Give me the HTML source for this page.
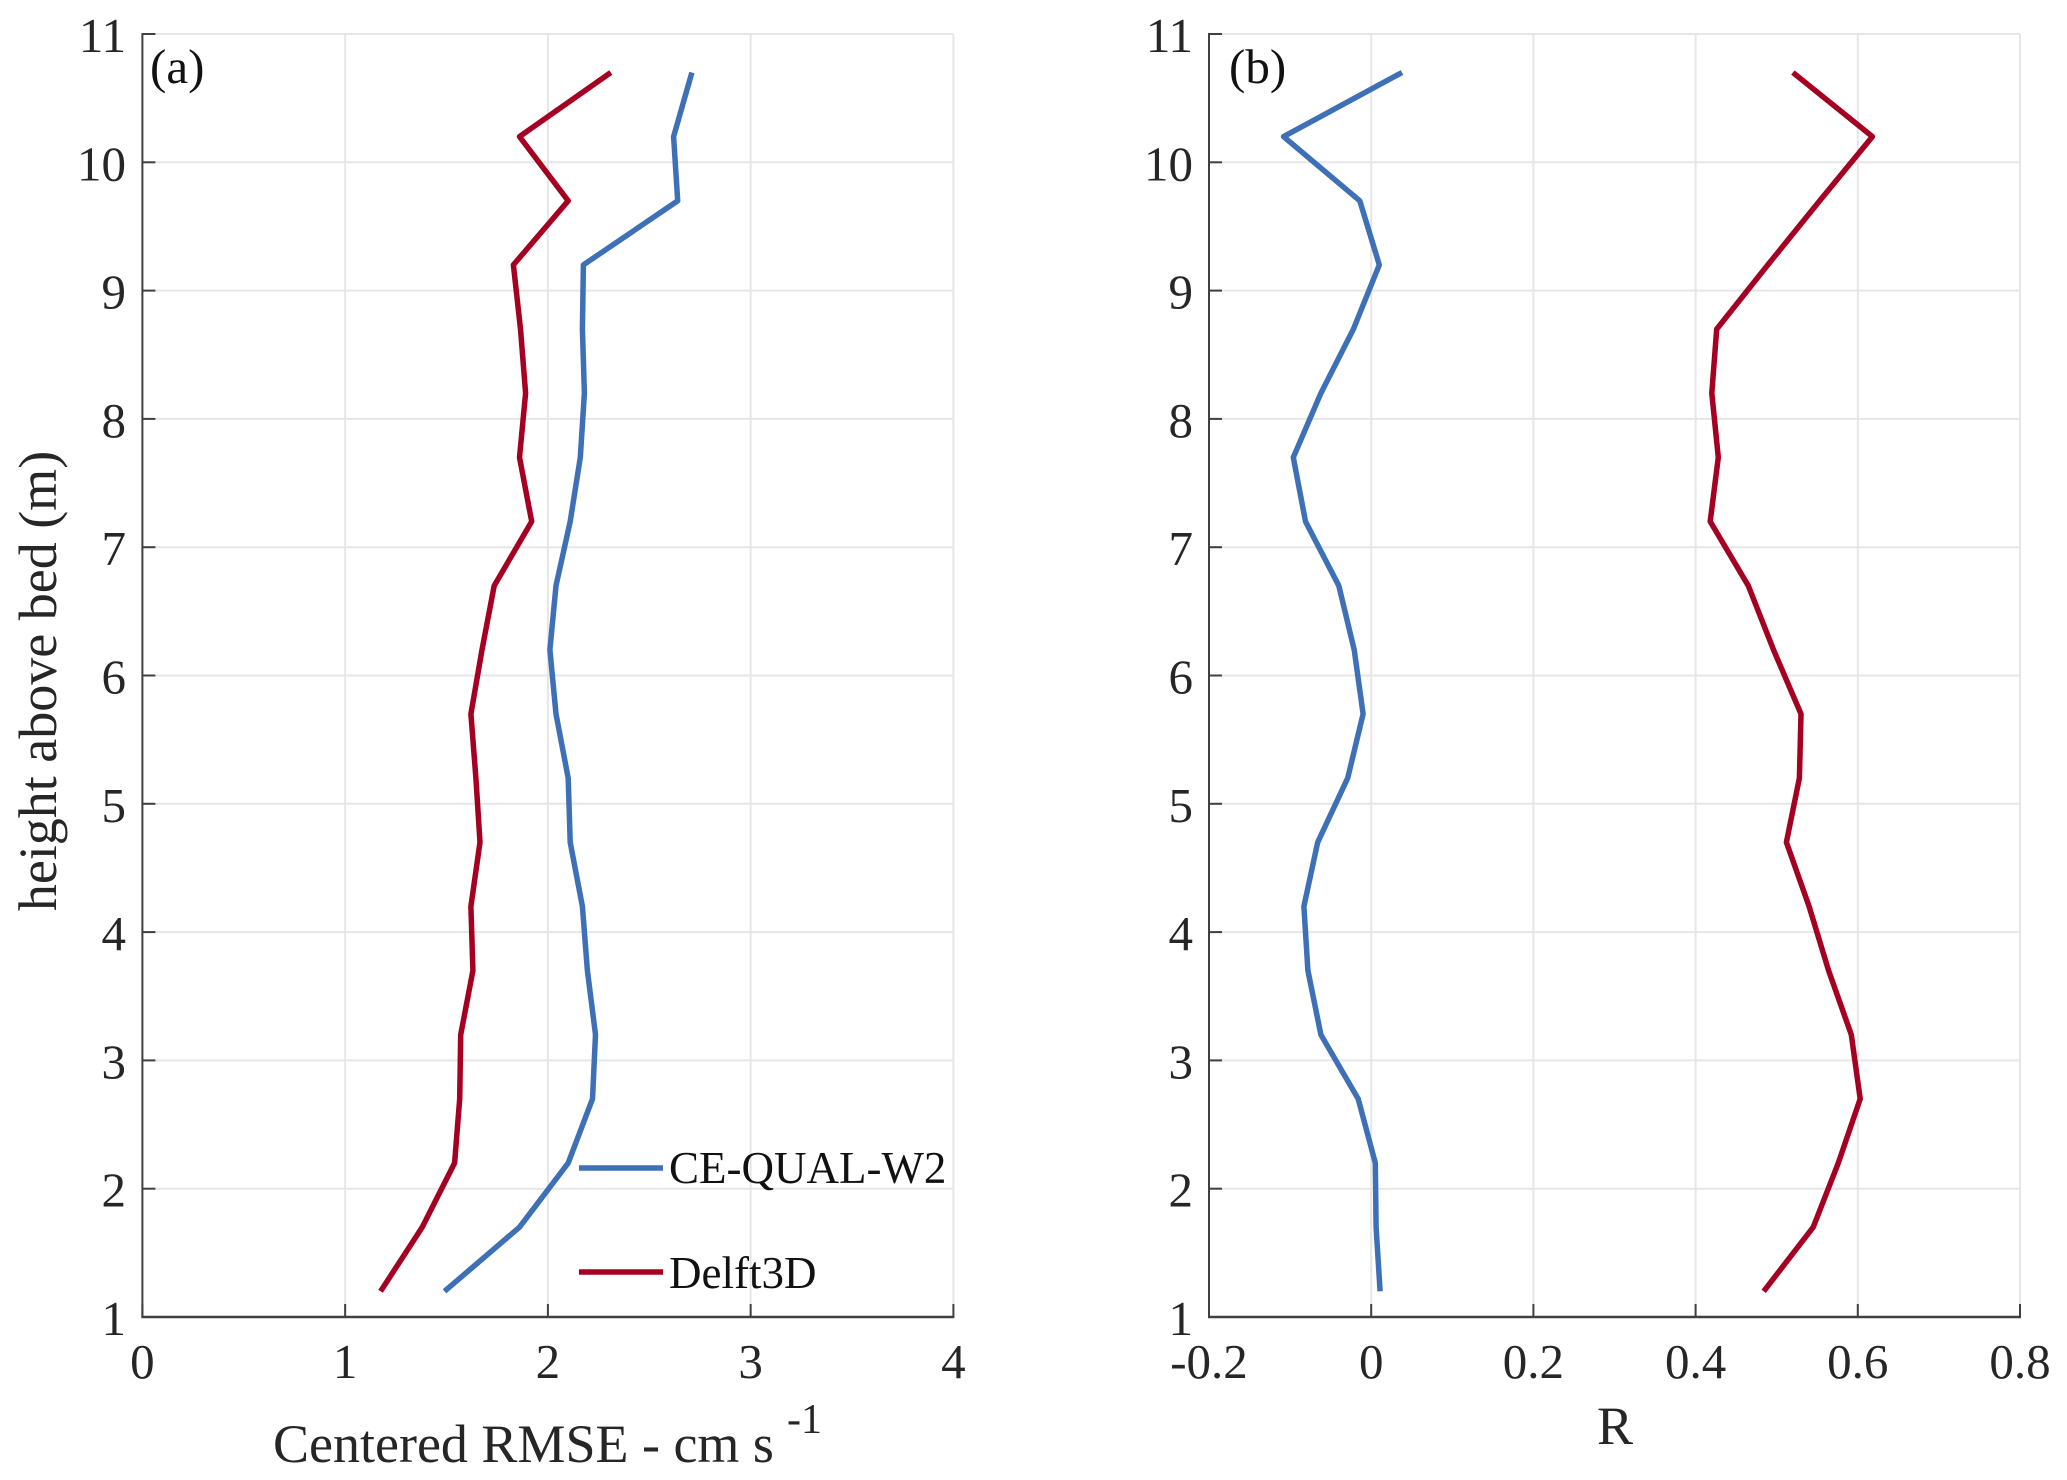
<!DOCTYPE html>
<html>
<head>
<meta charset="utf-8">
<title>Centered RMSE and R profiles</title>
<style>
html,body{margin:0;padding:0;background:#fff;}
svg{display:block;font-family:"Liberation Serif",serif;}
</style>
</head>
<body>
<svg id="chart" xmlns="http://www.w3.org/2000/svg" width="2067" height="1480" viewBox="0 0 2067 1480"></svg>
<script>
const heights = [10.7,10.2,9.7,9.2,8.7,8.2,7.7,7.2,6.7,6.2,5.7,5.2,4.7,4.2,3.7,3.2,2.7,2.2,1.7,1.2];
const rmseCeQual = [2.71,2.62,2.64,2.175,2.17,2.18,2.16,2.11,2.04,2.01,2.04,2.10,2.11,2.17,2.195,2.235,2.22,2.10,1.86,1.49];
const rmseDelft = [2.31,1.86,2.10,1.83,1.865,1.89,1.86,1.92,1.735,1.675,1.62,1.645,1.665,1.62,1.63,1.57,1.565,1.54,1.38,1.175];
const rCeQual = [0.038,-0.108,-0.014,0.01,-0.022,-0.062,-0.096,-0.081,-0.04,-0.021,-0.01,-0.029,-0.066,-0.083,-0.078,-0.062,-0.016,0.005,0.006,0.011];
const rDelft = [0.52,0.618,0.553,0.489,0.426,0.42,0.428,0.418,0.465,0.496,0.53,0.528,0.512,0.54,0.564,0.592,0.603,0.576,0.545,0.484];
const yTicks = [1,2,3,4,5,6,7,8,9,10,11];
const xTicksA = [0,1,2,3,4];
const xTicksB = [-0.2,0,0.2,0.4,0.6,0.8];

const BLUE = '#3d70b6', RED = '#a50021', INK = '#262626', AXIS = '#404040', GRID = '#e6e6e6';
const svg = document.getElementById('chart');
const NS = 'http://www.w3.org/2000/svg';
function make(tag, attrs, parent) {
  const el = document.createElementNS(NS, tag);
  for (const k in attrs) el.setAttribute(k, attrs[k]);
  (parent || svg).appendChild(el);
  return el;
}
const TOP = 34, BOTTOM = 1317;
function yScale(v) { return BOTTOM + (v - 1) / 10 * (TOP - BOTTOM); }

function drawPanel(id, left, right, xMin, xMax, xTicks, yLabelX, series, panelLabel, panelLabelX) {
  const xScale = v => left + (v - xMin) / (xMax - xMin) * (right - left);
  const g = make('g', {});
  
  

  xTicks.forEach(t => {
    const x = xScale(t);
    const line = make('line', {x1: x, x2: x, y1: TOP, y2: BOTTOM, stroke: GRID, 'stroke-width': 2}, g);
    
    
  });
  yTicks.forEach(t => {
    const y = yScale(t);
    const line = make('line', {x1: left, x2: right, y1: y, y2: y, stroke: GRID, 'stroke-width': 2}, g);
    
    
  });

  const yAxis = make('line', {x1: left, x2: left, y1: TOP - 1, y2: BOTTOM + 1, stroke: AXIS, 'stroke-width': 2}, g);
  
  
  const xAxis = make('line', {x1: left - 1, x2: right + 1, y1: BOTTOM, y2: BOTTOM, stroke: AXIS, 'stroke-width': 2.4}, g);
  
  

  xTicks.forEach(t => {
    const x = xScale(t);
    const tick = make('line', {x1: x, x2: x, y1: BOTTOM, y2: BOTTOM - 13, stroke: AXIS, 'stroke-width': 2}, g);
    
    
    const label = make('text', {x: x, y: 1378, 'text-anchor': 'middle', 'font-size': 49, fill: INK}, g);
    
    
    label.textContent = String(t);
  });
  yTicks.forEach(t => {
    const y = yScale(t);
    const tick = make('line', {x1: left, x2: left + 13, y1: y, y2: y, stroke: AXIS, 'stroke-width': 2}, g);
    
    
    const label = make('text', {x: yLabelX, y: y + 18, 'text-anchor': 'end', 'font-size': 49, fill: INK}, g);
    
    
    label.textContent = String(t);
  });

  series.forEach(s => {
    const pts = s.values.map((v, i) => xScale(v).toFixed(1) + ',' + yScale(heights[i]).toFixed(1)).join(' ');
    const line = make('polyline', {points: pts, fill: 'none', stroke: s.color, 'stroke-width': 5.5, 'stroke-linejoin': 'round'}, g);
    
    
  });

  const pl = make('text', {x: panelLabelX, y: 83, 'font-size': 49, fill: '#111'}, g);
  
  
  pl.textContent = panelLabel;
}

drawPanel('a', 142.4, 953.4, 0, 4, xTicksA, 126, [
  {name: 'line-ce-qual-w2-rmse', values: rmseCeQual, color: BLUE},
  {name: 'line-delft3d-rmse', values: rmseDelft, color: RED}
], '(a)', 150);
drawPanel('b', 1209, 2020, -0.2, 0.8, xTicksB, 1193, [
  {name: 'line-ce-qual-w2-r', values: rCeQual, color: BLUE},
  {name: 'line-delft3d-r', values: rDelft, color: RED}
], '(b)', 1229);

const yTitle = make('text', {transform: 'translate(56,681) rotate(-90)', 'text-anchor': 'middle', 'font-size': 54, fill: INK});


yTitle.textContent = 'height above bed (m)';

const xTitleA = make('text', {x: 273, y: 1462, 'font-size': 54, fill: INK});


xTitleA.textContent = 'Centered RMSE - cm s';

const xTitleSup = make('text', {x: 787, y: 1433, 'font-size': 42, fill: INK});


xTitleSup.textContent = '-1';

const xTitleB = make('text', {x: 1615, y: 1444, 'text-anchor': 'middle', 'font-size': 54, fill: INK});


xTitleB.textContent = 'R';

const legendBlue = make('line', {x1: 579, x2: 663, y1: 1168, y2: 1168, stroke: BLUE, 'stroke-width': 5.5});


const legendBlueText = make('text', {x: 669, y: 1183, 'font-size': 45, fill: '#111'});


legendBlueText.textContent = 'CE-QUAL-W2';

const legendRed = make('line', {x1: 579, x2: 663, y1: 1272, y2: 1272, stroke: RED, 'stroke-width': 5.5});


const legendRedText = make('text', {x: 669, y: 1288, 'font-size': 45, fill: '#111'});


legendRedText.textContent = 'Delft3D';
</script>
</body>
</html>
